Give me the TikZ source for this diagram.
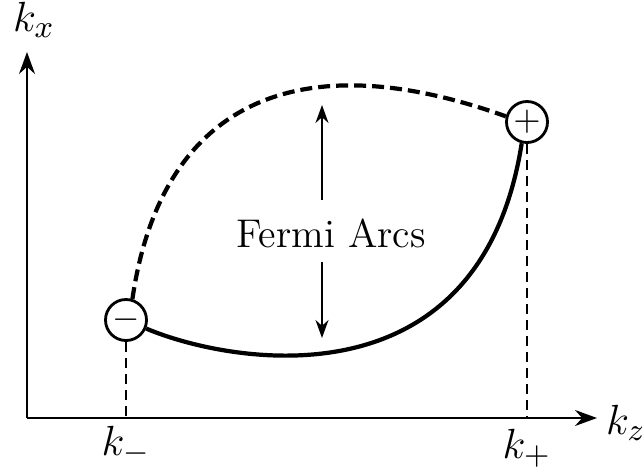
\documentclass[tikz,border=0pt]{standalone}
\usepackage{amsmath,amssymb}
\usepackage{xcolor}
\usepackage{tikz}
\usetikzlibrary{
  arrows.meta,
  calc,
  positioning
}
\tikzset{
  axisline/.style={-{Stealth[length=2.2mm,width=1.6mm]},semithick},
  weyl/.style={draw,circle,thick,minimum size=4.1mm,inner sep=0pt,
    fill=white,font=\normalsize},
  surfarc/.style={very thick,line cap=butt},
  openarc/.style={very thick,dash pattern=on 1.2mm off 0.6mm},
  dropline/.style={thick,dash pattern=on 1mm off 0.6mm},
  arcflow/.style={-{Stealth[length=1.8mm,width=1.3mm]},semithick},
  lab/.style={font=\fontsize{12.5}{14}\selectfont,inner sep=1pt},
  txtlab/.style={font=\fontsize{11.4}{13}\selectfont,inner sep=1pt}
}
\begin{document}
\begin{tikzpicture}[x=0.01cm,y=0.01cm]
  \useasboundingbox (0,0) rectangle (642,469);
  % axes
  \coordinate (o) at (27,51);
  \coordinate (xend) at (597,51);
  \coordinate (yend) at (27,417);
  \draw[axisline] (o)--(xend);
  \draw[axisline] (o)--(yend);
  \node[lab] (kz) at (626,46) {$k_z$};
  \node[lab] (kx) at (34,449) {$k_x$};
  % Weyl nodes
  \node[weyl] (wm) at (126,149) {$-$};
  \node[weyl] (wp) at (527,347) {$+$};
  \coordinate (wmfoot) at (126,51);
  \coordinate (wpfoot) at (527,51);
  \draw[dropline] (wm.south)--(wmfoot);
  \draw[dropline] (wp.south)--(wpfoot);
  \node[lab] (km) at (126,24) {$k_{-}$};
  \node[lab] (kp) at (527,21) {$k_{+}$};
  % arcs
  \draw[surfarc] (wm.-23) .. controls (230,105) and (480,60) .. (wp.-104);
  \draw[openarc] (wm.73) .. controls (160,360) and (290,430) .. (wp.165);
  % label
  \node[txtlab] (fa) at (331,236) {Fermi Arcs};
  \coordinate (uptail) at (322,269);
  \coordinate (uptip) at (322,364);
  \coordinate (dntail) at (322,207);
  \coordinate (dntip) at (322,131);
  \draw[arcflow] (uptail)--(uptip);
  \draw[arcflow] (dntail)--(dntip);
\end{tikzpicture}
\end{document}
